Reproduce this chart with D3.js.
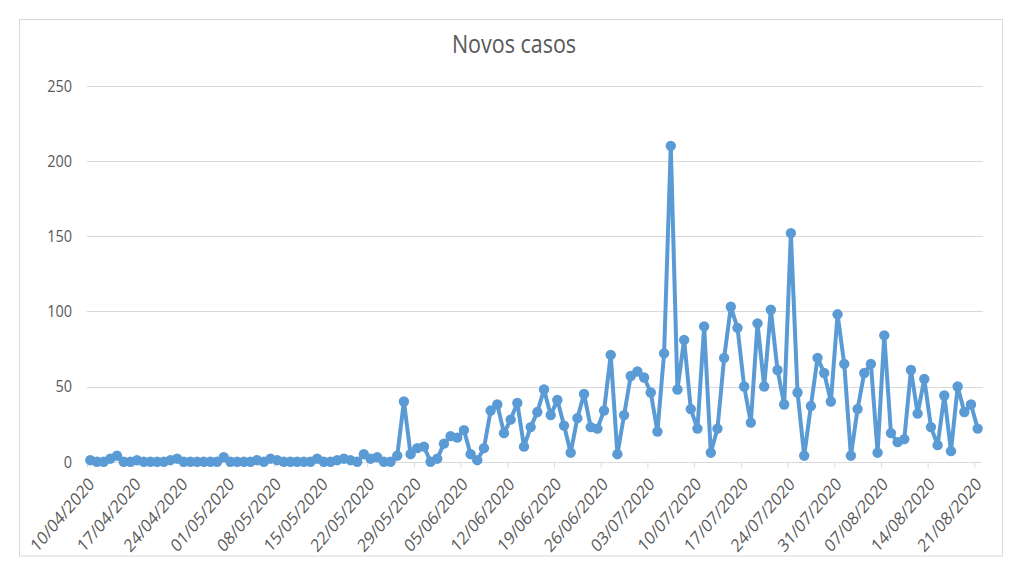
<!DOCTYPE html>
<html>
<head>
<meta charset="utf-8">
<script src="https://cdn.jsdelivr.net/npm/d3@7"></script>
<style>
  html, body { margin: 0; padding: 0; background: #fff; }
  svg { display: block; }
  text { font-family: "Open Sans", "Liberation Sans", sans-serif; fill: #595959; }
</style>
</head>
<body>
<svg id="chart" width="1024" height="576"></svg>
<script>
// ---- Data ----
const title = "Novos casos";
const startDate = "10/04/2020";
const dayCount = 134; // 10/04/2020 .. 21/08/2020
const newCases = [
  1, 0, 0, 2, 4, 0, 0, 1, 0, 0,
  0, 0, 1, 2, 0, 0, 0, 0, 0, 0,
  3, 0, 0, 0, 0, 1, 0, 2, 1, 0,
  0, 0, 0, 0, 2, 0, 0, 1, 2, 1,
  0, 5, 2, 3, 0, 0, 4, 40, 5, 9,
  10, 0, 2, 12, 17, 16, 21, 5, 1, 9,
  34, 38, 19, 28, 39, 10, 23, 33, 48, 31,
  41, 24, 6, 29, 45, 23, 22, 34, 71, 5,
  31, 57, 60, 56, 46, 20, 72, 210, 48, 81,
  35, 22, 90, 6, 22, 69, 103, 89, 50, 26,
  92, 50, 101, 61, 38, 152, 46, 4, 37, 69,
  59, 40, 98, 65, 4, 35, 59, 65, 6, 84,
  19, 13, 15, 61, 32, 55, 23, 11, 44, 7,
  50, 33, 38, 22
];
const yTicks = [0, 50, 100, 150, 200, 250];
const tickEveryDays = 7;

// ---- Build dates ----
const parse = d3.timeParse("%d/%m/%Y");
const fmt = d3.timeFormat("%d/%m/%Y");
const d0 = parse(startDate);
const dates = d3.range(dayCount).map(i => d3.timeDay.offset(d0, i));
const data = dates.map((d, i) => ({ date: d, value: newCases[i] }));

// ---- Layout ----
const svg = d3.select("#chart");
const plotL = 87, plotR = 981, plotT = 85.7, plotB = 461.7;
const stretchY = 1.17;

svg.append("rect")
  .attr("x", 19.5).attr("y", 19.5)
  .attr("width", 983).attr("height", 536.5)
  .attr("fill", "#fff").attr("stroke", "#d9d9d9").attr("stroke-width", 1);

svg.append("text")
  .attr("transform", `translate(514,53) scale(1,${stretchY})`)
  .attr("text-anchor", "middle")
  .attr("font-size", 21.5)
  .text(title);

const x = d3.scaleTime()
  .domain([d0, d3.timeDay.offset(d0, dayCount)])
  .range([plotL, plotR]);
const halfDay = (x(d3.timeDay.offset(d0, 1)) - x(d0)) / 2;
const y = d3.scaleLinear().domain([0, 250]).range([plotB, plotT]);

// y labels
svg.append("g").selectAll("text").data(yTicks).join("text")
  .attr("transform", d => `translate(${plotL - 15},${y(d)}) scale(1,${stretchY})`)
  .attr("text-anchor", "end")
  .attr("dy", "0.35em")
  .attr("font-size", 14.5)
  .text(d => d);

// gridlines
svg.append("g").selectAll("line").data(yTicks.filter(t => t > 0)).join("line")
  .attr("x1", plotL).attr("x2", plotR + 2)
  .attr("y1", d => Math.round(y(d)) + 0.5).attr("y2", d => Math.round(y(d)) + 0.5)
  .attr("stroke", "#d9d9d9").attr("stroke-width", 1);

// x axis
const tickDates = d3.range(0, dayCount, tickEveryDays).map(i => dates[i]);
const xAxis = d3.axisBottom(x).tickValues(tickDates).tickSize(5).tickFormat(() => "");
const gx = svg.append("g").attr("transform", `translate(0,${Math.round(plotB) + 0.5})`).call(xAxis);
gx.select(".domain").attr("stroke", "#d9d9d9").attr("d", `M${plotL},0H${plotR}`);
gx.selectAll(".tick line").attr("stroke", "#d9d9d9");

svg.append("g").selectAll("text").data(tickDates).join("text")
  .attr("font-size", 15.5)
  .attr("text-anchor", "end")
  .attr("dy", "0.35em")
  .attr("transform", d => `translate(${x(d) + halfDay + 1},${plotB + 19}) scale(1,${stretchY}) rotate(-45)`)
  .text(d => fmt(d));

// line + markers
const line = d3.line()
  .x(d => x(d.date) + halfDay)
  .y(d => y(d.value));
svg.append("path").datum(data)
  .attr("fill", "none")
  .attr("stroke", "#5b9bd5")
  .attr("stroke-width", 4)
  .attr("stroke-linejoin", "round")
  .attr("d", line);
svg.append("g").selectAll("circle").data(data).join("circle")
  .attr("cx", d => x(d.date) + halfDay)
  .attr("cy", d => y(d.value))
  .attr("r", 5.2)
  .attr("fill", "#5b9bd5");
</script>
</body>
</html>
